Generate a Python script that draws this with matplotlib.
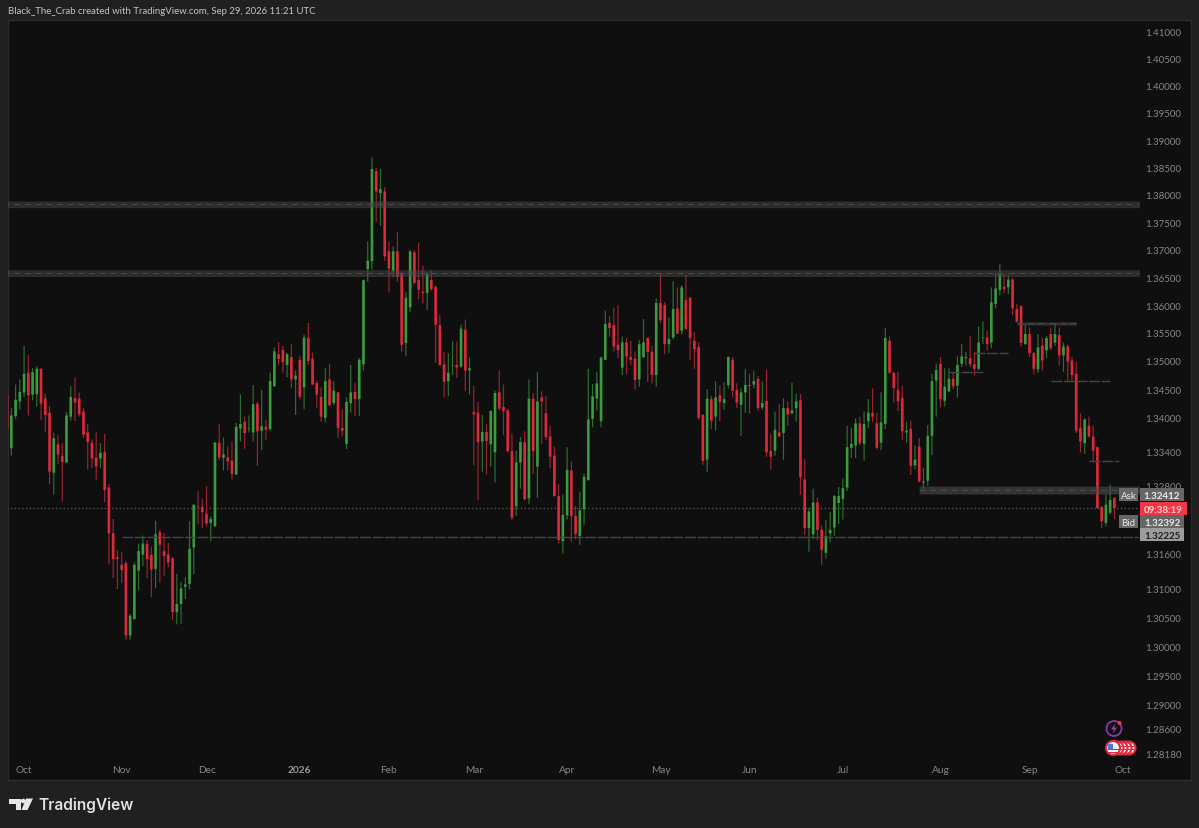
#!/usr/bin/python3

import matplotlib
matplotlib.use("Agg")
from matplotlib import pyplot as plt
from matplotlib.patches import Circle, Polygon, Rectangle
from matplotlib.ticker import FixedLocator, FormatStrFormatter, NullLocator
import numpy as np

opens = [
    1.3439, 1.3345, 1.3402, 1.3428, 1.3444, 1.3479, 1.3440, 1.3441, 1.3486, 1.3433,
    1.3408, 1.3302, 1.3352, 1.3331, 1.3320, 1.3401, 1.3434, 1.3433, 1.3410, 1.3373,
    1.3355, 1.3328, 1.3327, 1.3338, 1.3276, 1.3196, 1.3154, 1.3141, 1.3144, 1.3019,
    1.3047, 1.3131, 1.3159, 1.3177, 1.3158, 1.3134, 1.3198, 1.3165, 1.3159, 1.3152,
    1.3059, 1.3073, 1.3103, 1.3108, 1.3171, 1.3243, 1.3242, 1.3230, 1.3214, 1.3208,
    1.3355, 1.3328, 1.3329, 1.3323, 1.3299, 1.3380, 1.3392, 1.3379, 1.3373, 1.3424,
    1.3376, 1.3383, 1.3379, 1.3455, 1.3512, 1.3520, 1.3493, 1.3507, 1.3467, 1.3502,
    1.3453, 1.3541, 1.3504, 1.3461, 1.3436, 1.3399, 1.3467, 1.3425, 1.3444, 1.3381,
    1.3353, 1.3425, 1.3445, 1.3432, 1.3494, 1.3665, 1.3679, 1.3843, 1.3803, 1.3806,
    1.3697, 1.3662, 1.3697, 1.3658, 1.3532, 1.3596, 1.3695, 1.3645, 1.3624, 1.3622,
    1.3645, 1.3633, 1.3564, 1.3494, 1.3464, 1.3492, 1.3493, 1.3490, 1.3556, 1.3483,
    1.3409, 1.3408, 1.3357, 1.3374, 1.3352, 1.3338, 1.3444, 1.3418, 1.3412, 1.3340,
    1.3243, 1.3320, 1.3356, 1.3257, 1.3433, 1.3313, 1.3435, 1.3407, 1.3366, 1.3332,
    1.3261, 1.3182, 1.3227, 1.3306, 1.3226, 1.3191, 1.3238, 1.3289, 1.3397, 1.3433,
    1.3393, 1.3502, 1.3568, 1.3564, 1.3529, 1.3488, 1.3533, 1.3507, 1.3504, 1.3467,
    1.3507, 1.3541, 1.3516, 1.3475, 1.3604, 1.3600, 1.3530, 1.3542, 1.3594, 1.3554,
    1.3609, 1.3613, 1.3536, 1.3525, 1.3404, 1.3325, 1.3432, 1.3401, 1.3439, 1.3425,
    1.3457, 1.3502, 1.3448, 1.3422, 1.3444, 1.3457, 1.3458, 1.3468, 1.3417, 1.3429,
    1.3340, 1.3341, 1.3373, 1.3372, 1.3416, 1.3407, 1.3416, 1.3430, 1.3290, 1.3205,
    1.3194, 1.3250, 1.3202, 1.3162, 1.3196, 1.3206, 1.3249, 1.3256, 1.3276, 1.3346,
    1.3350, 1.3389, 1.3353, 1.3393, 1.3407, 1.3389, 1.3355, 1.3388, 1.3536, 1.3479,
    1.3448, 1.3434, 1.3373, 1.3379, 1.3315, 1.3348, 1.3285, 1.3288, 1.3367, 1.3465,
    1.3495, 1.3429, 1.3446, 1.3468, 1.3456, 1.3495, 1.3505, 1.3505, 1.3494, 1.3486,
    1.3541, 1.3542, 1.3533, 1.3602, 1.3627, 1.3633, 1.3632, 1.3646, 1.3593, 1.3598,
    1.3530, 1.3548, 1.3514, 1.3485, 1.3527, 1.3519, 1.3548, 1.3533, 1.3546, 1.3510,
    1.3526, 1.3501, 1.3477, 1.3381, 1.3354, 1.3385, 1.3366, 1.3347, 1.3242, 1.3214,
    1.3232, 1.3258,
]
highs = [
    1.3451, 1.3416, 1.3458, 1.3467, 1.3527, 1.3510, 1.3487, 1.3490, 1.3487, 1.3442,
    1.3420, 1.3373, 1.3368, 1.3354, 1.3409, 1.3455, 1.3471, 1.3444, 1.3417, 1.3388,
    1.3360, 1.3373, 1.3354, 1.3371, 1.3282, 1.3221, 1.3166, 1.3164, 1.3147, 1.3056,
    1.3145, 1.3178, 1.3192, 1.3184, 1.3173, 1.3218, 1.3203, 1.3196, 1.3179, 1.3155,
    1.3125, 1.3111, 1.3120, 1.3217, 1.3246, 1.3270, 1.3256, 1.3278, 1.3225, 1.3356,
    1.3388, 1.3364, 1.3348, 1.3357, 1.3390, 1.3440, 1.3401, 1.3403, 1.3457, 1.3427,
    1.3448, 1.3395, 1.3479, 1.3524, 1.3534, 1.3527, 1.3514, 1.3530, 1.3483, 1.3509,
    1.3547, 1.3568, 1.3515, 1.3465, 1.3453, 1.3487, 1.3495, 1.3464, 1.3445, 1.3414,
    1.3435, 1.3493, 1.3461, 1.3505, 1.3646, 1.3715, 1.3868, 1.3849, 1.3847, 1.3814,
    1.3715, 1.3706, 1.3732, 1.3659, 1.3623, 1.3700, 1.3699, 1.3712, 1.3671, 1.3659,
    1.3662, 1.3635, 1.3582, 1.3516, 1.3514, 1.3535, 1.3535, 1.3565, 1.3574, 1.3506,
    1.3456, 1.3427, 1.3404, 1.3388, 1.3412, 1.3447, 1.3483, 1.3458, 1.3415, 1.3371,
    1.3341, 1.3365, 1.3375, 1.3467, 1.3443, 1.3480, 1.3446, 1.3437, 1.3385, 1.3348,
    1.3282, 1.3264, 1.3347, 1.3322, 1.3244, 1.3268, 1.3300, 1.3486, 1.3459, 1.3480,
    1.3508, 1.3590, 1.3580, 1.3595, 1.3600, 1.3544, 1.3541, 1.3536, 1.3517, 1.3538,
    1.3575, 1.3542, 1.3527, 1.3612, 1.3657, 1.3605, 1.3578, 1.3643, 1.3632, 1.3636,
    1.3654, 1.3615, 1.3551, 1.3533, 1.3405, 1.3450, 1.3438, 1.3464, 1.3456, 1.3462,
    1.3508, 1.3507, 1.3460, 1.3451, 1.3486, 1.3477, 1.3483, 1.3473, 1.3463, 1.3484,
    1.3370, 1.3410, 1.3423, 1.3433, 1.3428, 1.3461, 1.3442, 1.3441, 1.3326, 1.3241,
    1.3274, 1.3258, 1.3209, 1.3219, 1.3233, 1.3263, 1.3277, 1.3292, 1.3385, 1.3381,
    1.3398, 1.3401, 1.3410, 1.3432, 1.3451, 1.3408, 1.3444, 1.3559, 1.3544, 1.3481,
    1.3481, 1.3456, 1.3392, 1.3394, 1.3350, 1.3363, 1.3311, 1.3386, 1.3477, 1.3495,
    1.3507, 1.3487, 1.3487, 1.3480, 1.3508, 1.3530, 1.3516, 1.3545, 1.3516, 1.3562,
    1.3571, 1.3554, 1.3632, 1.3658, 1.3674, 1.3655, 1.3654, 1.3649, 1.3602, 1.3600,
    1.3566, 1.3560, 1.3516, 1.3548, 1.3542, 1.3545, 1.3560, 1.3568, 1.3560, 1.3533,
    1.3529, 1.3507, 1.3499, 1.3407, 1.3398, 1.3401, 1.3385, 1.3348, 1.3244, 1.3264,
    1.3281, 1.3258,
]
lows = [
    1.3345, 1.3332, 1.3397, 1.3414, 1.3436, 1.3403, 1.3430, 1.3419, 1.3395, 1.3373,
    1.3282, 1.3264, 1.3317, 1.3252, 1.3319, 1.3394, 1.3393, 1.3401, 1.3363, 1.3308,
    1.3310, 1.3290, 1.3310, 1.3250, 1.3142, 1.3118, 1.3099, 1.3110, 1.3011, 1.3011,
    1.3047, 1.3097, 1.3139, 1.3118, 1.3085, 1.3101, 1.3110, 1.3122, 1.3137, 1.3046,
    1.3038, 1.3039, 1.3082, 1.3098, 1.3125, 1.3212, 1.3205, 1.3208, 1.3182, 1.3208,
    1.3325, 1.3306, 1.3306, 1.3290, 1.3298, 1.3357, 1.3344, 1.3373, 1.3357, 1.3314,
    1.3342, 1.3360, 1.3376, 1.3454, 1.3493, 1.3479, 1.3471, 1.3451, 1.3404, 1.3432,
    1.3414, 1.3493, 1.3457, 1.3417, 1.3392, 1.3391, 1.3420, 1.3421, 1.3363, 1.3366,
    1.3344, 1.3408, 1.3402, 1.3402, 1.3483, 1.3642, 1.3664, 1.3750, 1.3743, 1.3680,
    1.3623, 1.3650, 1.3642, 1.3517, 1.3509, 1.3587, 1.3638, 1.3610, 1.3603, 1.3591,
    1.3625, 1.3497, 1.3492, 1.3435, 1.3437, 1.3475, 1.3470, 1.3487, 1.3446, 1.3440,
    1.3315, 1.3254, 1.3304, 1.3299, 1.3313, 1.3285, 1.3412, 1.3368, 1.3338, 1.3219,
    1.3226, 1.3274, 1.3254, 1.3247, 1.3300, 1.3258, 1.3353, 1.3359, 1.3310, 1.3260,
    1.3178, 1.3161, 1.3220, 1.3181, 1.3186, 1.3176, 1.3211, 1.3288, 1.3382, 1.3412,
    1.3382, 1.3501, 1.3543, 1.3517, 1.3505, 1.3475, 1.3476, 1.3493, 1.3449, 1.3454,
    1.3505, 1.3463, 1.3460, 1.3454, 1.3568, 1.3512, 1.3514, 1.3538, 1.3548, 1.3547,
    1.3556, 1.3501, 1.3486, 1.3395, 1.3316, 1.3304, 1.3379, 1.3376, 1.3393, 1.3413,
    1.3451, 1.3435, 1.3416, 1.3367, 1.3408, 1.3406, 1.3451, 1.3412, 1.3413, 1.3330,
    1.3307, 1.3332, 1.3365, 1.3325, 1.3385, 1.3405, 1.3392, 1.3263, 1.3193, 1.3164,
    1.3185, 1.3183, 1.3141, 1.3152, 1.3180, 1.3192, 1.3212, 1.3220, 1.3270, 1.3328,
    1.3328, 1.3350, 1.3323, 1.3381, 1.3392, 1.3343, 1.3342, 1.3379, 1.3477, 1.3426,
    1.3411, 1.3360, 1.3355, 1.3298, 1.3308, 1.3285, 1.3274, 1.3279, 1.3333, 1.3401,
    1.3417, 1.3419, 1.3444, 1.3450, 1.3435, 1.3489, 1.3492, 1.3489, 1.3474, 1.3483,
    1.3530, 1.3519, 1.3523, 1.3594, 1.3618, 1.3621, 1.3620, 1.3582, 1.3569, 1.3526,
    1.3529, 1.3507, 1.3476, 1.3479, 1.3483, 1.3505, 1.3519, 1.3527, 1.3492, 1.3481,
    1.3465, 1.3463, 1.3372, 1.3337, 1.3335, 1.3364, 1.3321, 1.3238, 1.3205, 1.3208,
    1.3229, 1.3221,
]
closes = [
    1.3380, 1.3403, 1.3431, 1.3445, 1.3477, 1.3439, 1.3480, 1.3486, 1.3424, 1.3404,
    1.3304, 1.3363, 1.3334, 1.3321, 1.3403, 1.3436, 1.3426, 1.3405, 1.3369, 1.3356,
    1.3327, 1.3313, 1.3337, 1.3272, 1.3196, 1.3151, 1.3151, 1.3132, 1.3019, 1.3053,
    1.3141, 1.3165, 1.3178, 1.3151, 1.3133, 1.3194, 1.3176, 1.3156, 1.3145, 1.3059,
    1.3073, 1.3100, 1.3107, 1.3169, 1.3246, 1.3242, 1.3233, 1.3213, 1.3221, 1.3355,
    1.3329, 1.3334, 1.3322, 1.3300, 1.3383, 1.3388, 1.3372, 1.3380, 1.3423, 1.3375,
    1.3384, 1.3378, 1.3464, 1.3517, 1.3504, 1.3498, 1.3512, 1.3467, 1.3474, 1.3436,
    1.3542, 1.3500, 1.3458, 1.3440, 1.3401, 1.3464, 1.3421, 1.3447, 1.3381, 1.3376,
    1.3427, 1.3444, 1.3432, 1.3502, 1.3645, 1.3680, 1.3847, 1.3806, 1.3810, 1.3688,
    1.3666, 1.3697, 1.3651, 1.3529, 1.3613, 1.3697, 1.3640, 1.3628, 1.3622, 1.3656,
    1.3629, 1.3565, 1.3493, 1.3463, 1.3479, 1.3493, 1.3488, 1.3558, 1.3483, 1.3487,
    1.3405, 1.3356, 1.3374, 1.3358, 1.3411, 1.3443, 1.3415, 1.3411, 1.3340, 1.3223,
    1.3320, 1.3356, 1.3255, 1.3433, 1.3340, 1.3428, 1.3428, 1.3365, 1.3330, 1.3261,
    1.3184, 1.3228, 1.3307, 1.3226, 1.3195, 1.3236, 1.3295, 1.3396, 1.3437, 1.3460,
    1.3506, 1.3566, 1.3559, 1.3526, 1.3519, 1.3533, 1.3508, 1.3502, 1.3466, 1.3530,
    1.3533, 1.3516, 1.3475, 1.3604, 1.3573, 1.3530, 1.3539, 1.3593, 1.3549, 1.3632,
    1.3557, 1.3541, 1.3521, 1.3399, 1.3323, 1.3433, 1.3394, 1.3435, 1.3427, 1.3432,
    1.3507, 1.3447, 1.3426, 1.3444, 1.3457, 1.3455, 1.3464, 1.3416, 1.3425, 1.3338,
    1.3330, 1.3378, 1.3366, 1.3416, 1.3405, 1.3412, 1.3428, 1.3294, 1.3205, 1.3234,
    1.3250, 1.3202, 1.3167, 1.3191, 1.3202, 1.3261, 1.3261, 1.3275, 1.3347, 1.3353,
    1.3389, 1.3354, 1.3388, 1.3408, 1.3401, 1.3346, 1.3391, 1.3541, 1.3479, 1.3452,
    1.3428, 1.3375, 1.3376, 1.3314, 1.3325, 1.3287, 1.3287, 1.3367, 1.3464, 1.3484,
    1.3432, 1.3454, 1.3468, 1.3455, 1.3493, 1.3508, 1.3507, 1.3494, 1.3486, 1.3533,
    1.3542, 1.3530, 1.3605, 1.3630, 1.3657, 1.3629, 1.3646, 1.3594, 1.3570, 1.3532,
    1.3548, 1.3514, 1.3486, 1.3524, 1.3501, 1.3541, 1.3523, 1.3548, 1.3510, 1.3526,
    1.3499, 1.3475, 1.3376, 1.3357, 1.3396, 1.3366, 1.3341, 1.3240, 1.3217, 1.3246,
    1.3254, 1.3240,
]

price_ticks = [
    1.41, 1.405, 1.40, 1.395, 1.39, 1.385, 1.38, 1.375, 1.37, 1.365, 1.36, 1.355,
    1.35, 1.345, 1.34, 1.334, 1.328, 1.316, 1.31, 1.305, 1.30, 1.295, 1.29, 1.286,
    1.2818,
]
month_labels = ["Oct", "Nov", "Dec", "2026", "Feb", "Mar", "Apr", "May", "Jun", "Jul", "Aug", "Sep", "Oct"]
month_bars = [4, 27, 47, 69, 90, 110, 132, 154, 175, 197, 220, 241, 263]

# zones: first bar, last bar, low, high
wide_zones = [
    (-1, 268, 1.37763, 1.37885),
    (-1, 268, 1.36515, 1.36639),
]
short_zones = [
    (215, 268, 1.32647, 1.32787),
    (238, 252, 1.35643, 1.35697),
]
# thin levels: first bar, last bar, price
levels = [
    (228, 236, 1.35148),
    (222, 230, 1.3481),
    (246, 260, 1.34644),
    (255, 262, 1.33227),
    (27, 268, 1.3190),
]
last_price = 1.3240

BG = "#202020"
PANE = "#0f0f0f"
GREEN = "#3d9b3f"
RED = "#dc2a3c"
GREEN_WICK = "#2c7030"
RED_WICK = "#9a2433"
AXIS_TEXT = "#868686"
FONT = "Lato"

W, H = 1199, 829
fig = plt.figure(figsize=(W / 100, H / 100), dpi=100, facecolor=BG)

# page layer in pixels, for the frame and the TradingView furniture
page = fig.add_axes([0, 0, 1, 1], zorder=0)
page.set_xlim(0, W)
page.set_ylim(H, 0)
page.axis("off")
page.add_patch(Rectangle((7.5, 21), 1183, 760, fc=PANE, ec="#2b2b2b", lw=1))

left, right, top, bottom = 8, 1139, 22, 781
ax = fig.add_axes([left / W, 1 - bottom / H, (right - left) / W, (bottom - top) / H], zorder=1)
ax.patch.set_alpha(0)
ax.set_yscale("log")
ax.set_ylim(1.27725, 1.41205)
ax.set_xlim(0.21, 266.8)
for spine in ax.spines.values():
    spine.set_visible(False)

o = np.array(opens)
h = np.array(highs)
l = np.array(lows)
c = np.array(closes)
x = np.arange(len(o))
up = c >= o

ax.vlines(x[up], l[up], h[up], color=GREEN_WICK, lw=0.85, zorder=2, snap=False)
ax.vlines(x[~up], l[~up], h[~up], color=RED_WICK, lw=0.85, zorder=2, snap=False)
for mask, sign, colour in [(up, 1, GREEN), (~up, -1, RED)]:
    bars = ax.bar(x[mask], (sign * (c - o))[mask], bottom=np.minimum(o, c)[mask], width=0.62,
                  color=colour, linewidth=0, zorder=3)
    for bar in bars:
        bar.set_snap(False)

for zones, alpha in [(wide_zones, 0.5), (short_zones, 0.62)]:
    for x0, x1, lo, hi in zones:
        ax.fill_between([x0, x1], lo, hi, color="#4a4a4a", alpha=alpha, linewidth=0, zorder=4, snap=False)
        ax.hlines((lo + hi) / 2, x0, x1, color="#4c4c4c", lw=0.7, ls=(0, (6, 5)), zorder=4)
for x0, x1, p in levels:
    ax.hlines(p, x0, x1, color="#454545", lw=1.0, ls=(0, (8, 1)), zorder=4)
ax.hlines(last_price, -1, 268, color="#5e5e5e", lw=0.9, ls=(0, (1, 2)), zorder=1)

ax.yaxis.tick_right()
ax.yaxis.set_major_locator(FixedLocator(price_ticks))
ax.yaxis.set_major_formatter(FormatStrFormatter("%.5f"))
ax.yaxis.set_minor_locator(NullLocator())
ax.tick_params(axis="y", which="both", length=0, pad=4.5, labelsize=7.0, labelcolor=AXIS_TEXT)
ax.set_xticks(month_bars)
ax.set_xticklabels(month_labels)
ax.tick_params(axis="x", length=0, pad=-11, labelsize=7.3, labelcolor=AXIS_TEXT)
for label in ax.get_xticklabels() + ax.get_yticklabels():
    label.set_fontfamily(FONT)
ax.get_xticklabels()[3].set_fontweight("bold")
ax.get_xticklabels()[3].set_color("#9a9a9a")

# overlay for price tags, icons
over = fig.add_axes([0, 0, 1, 1], zorder=2)
over.set_xlim(0, W)
over.set_ylim(H, 0)
over.axis("off")


def tag(x0, y0, w, hgt, text, face, color, size=7.0, weight="normal"):
    over.add_patch(Rectangle((x0, y0), w, hgt, fc=face, ec="none"))
    over.text(x0 + w / 2, y0 + hgt / 2, text, color=color, ha="center", va="center_baseline",
              fontsize=size, family=FONT, fontweight=weight)


tag(1119, 489, 19, 13, "Ask", "#666666", "#e8e8e8")
tag(1140, 489, 44, 13, "1.32412", "#666666", "#e8e8e8", weight="bold")
tag(1140, 503, 47, 13, "09:38:19", "#f23645", "#ffd9dc", weight="bold")
tag(1119, 516, 19, 13, "Bid", "#666666", "#e8e8e8")
tag(1140, 516, 44, 13, "1.32392", "#666666", "#e8e8e8", weight="bold")
tag(1140, 529, 44, 13, "1.32225", "#9c9c9c", "#1e1e1e", weight="bold")

# economic calendar icons
over.add_patch(Circle((1114, 729.5), 7.5, fc="none", ec="#8e35a8", lw=1.3))
over.add_patch(Polygon([(1115.5, 724), (1111, 730.5), (1114, 730.5), (1112.5, 735), (1117, 728.5),
                        (1114, 728.5)], fc="#9c3fb5", ec="none"))
over.add_patch(Circle((1119.5, 724), 2, fc="#f23645", ec="none"))
for cx in [1129, 1125, 1121, 1117]:
    over.add_patch(Circle((cx, 749), 6.5, fc="#f2f2f2", ec="#e0283c", lw=1.5))
    over.add_patch(Rectangle((cx + 1, 746.5), 4, 1.3, fc="#e0283c", ec="none"))
    over.add_patch(Rectangle((cx + 1, 750), 4, 1.3, fc="#e0283c", ec="none"))
over.add_patch(Circle((1113, 749), 7, fc="#f4f4f4", ec="#e0283c", lw=1.5))
for yy in [749.5, 752.5]:
    over.add_patch(Rectangle((1107.5, yy), 11, 1.4, fc="#e0283c", ec="none"))
over.add_patch(Rectangle((1107.5, 745), 5.5, 4.5, fc="#4a7bd8", ec="none"))

# header and logo
fig.text(8 / W, 1 - 11.5 / H, "Black_The_Crab created with TradingView.com, Sep 29, 2026 11:21 UTC",
         color="#c4c4c4", fontsize=6.9, family=FONT, va="center", ha="left")
for pts in [
    [(9, 799.5), (21, 799.5), (21, 811), (15.5, 811), (15.5, 804.5), (9, 804.5)],
    [(26, 799.5), (33, 799.5), (27.5, 811), (21.5, 811)],
]:
    page.add_patch(Polygon(pts, fc="#e6e6e6", ec="none"))
page.add_patch(Circle((23.2, 802), 2.3, fc="#e6e6e6", ec="none"))
fig.text(38.5 / W, 1 - 805 / H, "TradingView", color="#e0e0e0", fontsize=11.2, family="Inter",
         fontweight="semibold", va="center", ha="left")

fig.savefig("out.png", dpi=100, facecolor=BG)
